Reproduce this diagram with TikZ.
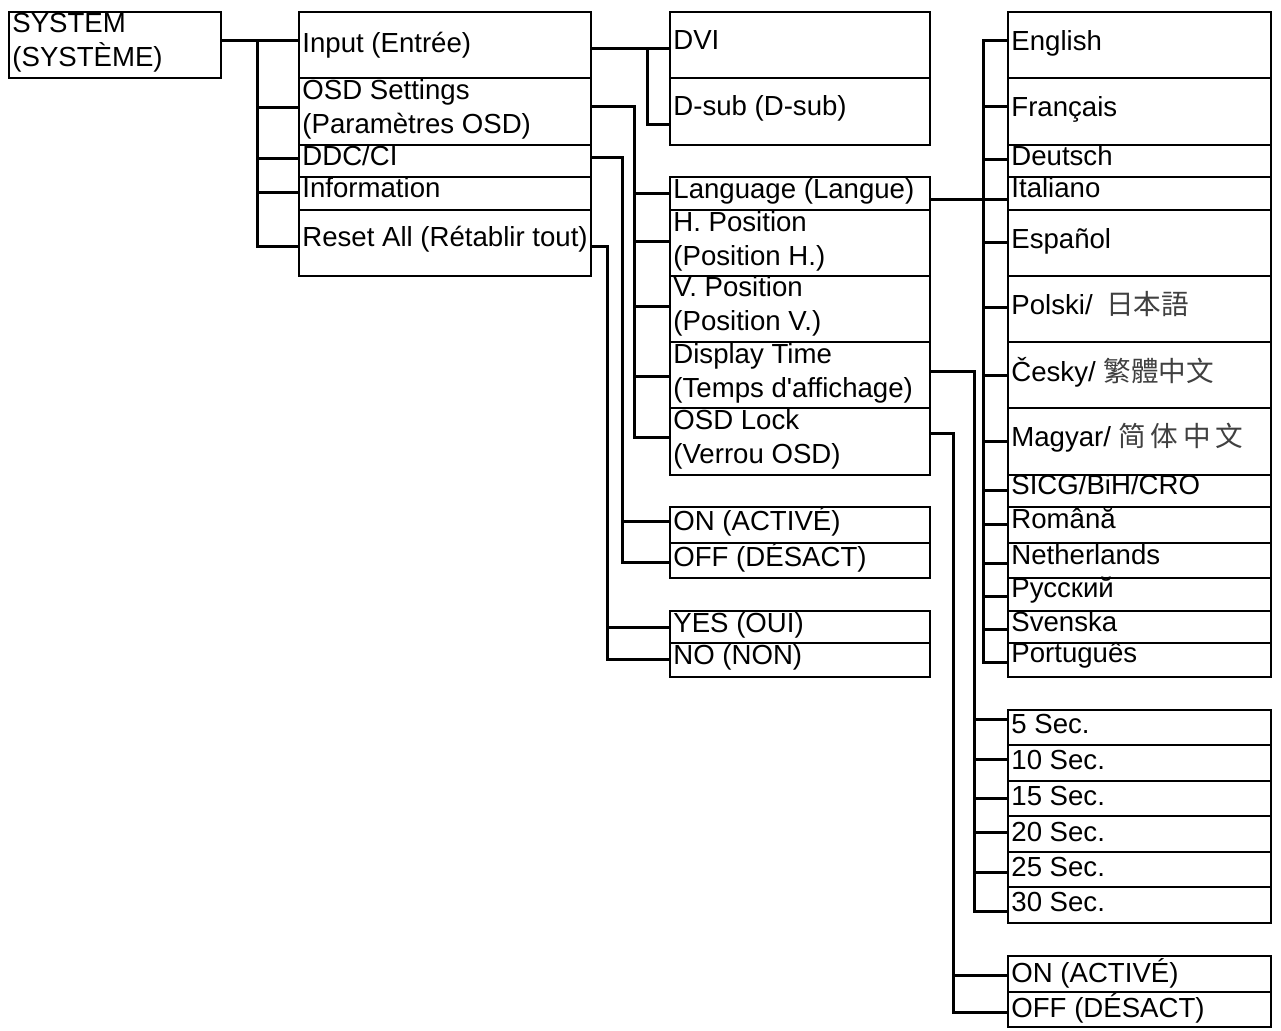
\documentclass[tikz,border=0pt]{standalone}
\usepackage{fontspec}
\setmainfont{Liberation Sans}[Ligatures=TeXOff]
\newfontfamily\cjkjp{Noto Sans CJK JP}
\newfontfamily\cjktc{Noto Sans CJK TC}
\newfontfamily\cjksc{Noto Sans CJK SC}
\newcommand\two[2]{\vtop{\hbox{#1}\hbox{#2}}}
\newcommand\mitem[7]{%
  \node[mbox, minimum width={(#4-#2)*0.5pt}, minimum height={(#5-#3)*0.5pt}] (#1) at ({(#2+#4)/2},{(#3+#5)/2}) {};
  \node[mtxt] (#1-t) at (#2+3,#6) {#7};}
\begin{document}
\begin{tikzpicture}[x=0.5pt,y=-0.5pt,
  mbox/.style={draw, rectangle, line width=1pt, inner sep=0pt, outer sep=0pt},
  mtxt/.style={anchor=base west, inner sep=0pt, font=\fontsize{13.8}{16.75}\selectfont},
  conn/.style={line width=1.5pt}]
\useasboundingbox (0,0) rectangle (1281,1031);
\fill[white] (0,0) rectangle (1281,1031);
% column 1
\mitem{sys}{9}{12}{221}{78}{33}{\two{SYSTEM}{(SYSTÈME)}}
% column 2
\mitem{in}{299}{12}{591}{78}{53}{Input (Entrée)}
\mitem{osd}{299}{78}{591}{145}{100}{\two{OSD Settings}{(Paramètres OSD)}}
\mitem{ddc}{299}{145}{591}{177}{166}{DDC/CI}
\mitem{info}{299}{177}{591}{210}{198}{Information}
\mitem{reset}{299}{210}{591}{276}{247}{Reset All (Rétablir tout)}
% column 3
\mitem{dvi}{670}{12}{930}{78}{50}{DVI}
\mitem{dsub}{670}{78}{930}{145}{116}{D-sub (D-sub)}
\mitem{lang}{670}{177}{930}{210}{199}{Language (Langue)}
\mitem{hpos}{670}{210}{930}{276}{232}{\two{H. Position}{(Position H.)}}
\mitem{vpos}{670}{276}{930}{342}{297}{\two{V. Position}{(Position V.)}}
\mitem{disp}{670}{342}{930}{408}{364}{\two{Display Time}{(Temps d'affichage)}}
\mitem{lock}{670}{408}{930}{475}{430}{\two{OSD Lock}{(Verrou OSD)}}
\mitem{on1}{670}{507}{930}{543}{531}{ON (ACTIVÉ)}
\mitem{off1}{670}{543}{930}{578}{567}{OFF (DÉSACT)}
\mitem{yes}{670}{611}{930}{643}{633}{YES (OUI)}
\mitem{no}{670}{643}{930}{677}{665}{NO (NON)}
% column 4
\mitem{eng}{1008}{12}{1271}{78}{51}{English}
\mitem{fra}{1008}{78}{1271}{145}{117}{Français}
\mitem{deu}{1008}{145}{1271}{177}{166}{Deutsch}
\mitem{ita}{1008}{177}{1271}{210}{198}{Italiano}
\mitem{esp}{1008}{210}{1271}{276}{249}{Español}
\mitem{pol}{1008}{276}{1271}{342}{315}{Polski/\hspace{3pt} {\cjkjp\color{black!75}日本語}}
\mitem{ces}{1008}{342}{1271}{408}{382}{Česky/ {\cjktc\color{black!75}繁體中文}}
\mitem{mag}{1008}{408}{1271}{475}{447}{Magyar/ {\cjksc\color{black!75}简\,体\,中\,文}}
\mitem{sicg}{1008}{475}{1271}{507}{495}{SICG/BiH/CRO}
\mitem{rom}{1008}{507}{1271}{543}{529}{Română}
\mitem{ned}{1008}{543}{1271}{578}{565}{Netherlands}
\mitem{rus}{1008}{578}{1271}{611}{598}{Русский}
\mitem{sve}{1008}{611}{1271}{643}{632}{Svenska}
\mitem{por}{1008}{643}{1271}{677}{663}{Português}
\mitem{s5}{1008}{710}{1271}{745}{734}{5 Sec.}
\mitem{s10}{1008}{745}{1271}{781}{770}{10 Sec.}
\mitem{s15}{1008}{781}{1271}{816}{806}{15 Sec.}
\mitem{s20}{1008}{816}{1271}{852}{842}{20 Sec.}
\mitem{s25}{1008}{852}{1271}{887}{877}{25 Sec.}
\mitem{s30}{1008}{887}{1271}{923}{912}{30 Sec.}
\mitem{on2}{1008}{956}{1271}{992}{982}{ON (ACTIVÉ)}
\mitem{off2}{1008}{992}{1271}{1027}{1017}{OFF (DÉSACT)}
% connectors: SYSTEM
\draw[conn] (sys.east|-0,41) -- (in.west|-0,41);
\draw[conn] (257,41) |- (reset.west|-0,247);
\foreach \yy/\n in {108/osd,159/ddc,193/info} \draw[conn] (257,\yy) -- (\n.west|-0,\yy);
% Input
\draw[conn] (in.east|-0,49) -- (dvi.west|-0,49);
\draw[conn] (647,49) |- (dsub.west|-0,125);
% OSD settings
\draw[conn] (osd.east|-0,107) -- (634,107) |- (lock.west|-0,438);
\foreach \yy/\n in {194/lang,242/hpos,307/vpos,377/disp} \draw[conn] (634,\yy) -- (\n.west|-0,\yy);
% DDC/CI
\draw[conn] (ddc.east|-0,158) -- (622,158) |- (off1.west|-0,563);
\draw[conn] (622,522) -- (on1.west|-0,522);
% Reset
\draw[conn] (reset.east|-0,247) -- (607,247) |- (no.west|-0,660);
\draw[conn] (607,628) -- (yes.west|-0,628);
% Language
\draw[conn] (lang.east|-0,200) -- (ita.west|-0,200);
\draw[conn] (eng.west|-0,41) -| (983,663) -- (por.west|-0,663);
\foreach \yy/\n in {107/fra,160/deu,243/esp,308/pol,376/ces,442/mag,491/sicg,525/rom,564/ned,597/rus,630/sve}
  \draw[conn] (983,\yy) -- (\n.west|-0,\yy);
% Display time
\draw[conn] (disp.east|-0,372) -- (974,372) |- (s30.west|-0,912);
\foreach \yy/\n in {720/s5,760/s10,799/s15,833/s20,873/s25}
  \draw[conn] (974,\yy) -- (\n.west|-0,\yy);
% OSD lock
\draw[conn] (lock.east|-0,434) -- (953,434) |- (off2.west|-0,1012);
\draw[conn] (953,975) -- (on2.west|-0,975);
\end{tikzpicture}
\end{document}
